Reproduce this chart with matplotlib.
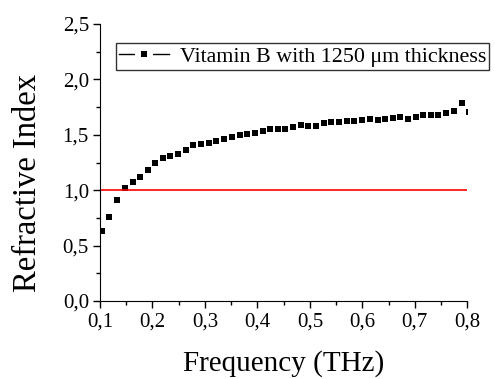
import matplotlib
matplotlib.use("Agg")
import matplotlib.pyplot as plt
from matplotlib.lines import Line2D
from matplotlib.ticker import MultipleLocator, FuncFormatter

plt.rcParams['font.family'] = ['Liberation Serif', 'DejaVu Serif']

# frequência (THz) e índice de refração
freq = [0.103, 0.118, 0.132, 0.147, 0.162, 0.176, 0.191, 0.205, 0.220, 0.234,
        0.249, 0.264, 0.278, 0.293, 0.307, 0.322, 0.337, 0.351, 0.366, 0.380,
        0.395, 0.410, 0.424, 0.439, 0.453, 0.468, 0.483, 0.497, 0.512, 0.526,
        0.541, 0.556, 0.570, 0.585, 0.599, 0.614, 0.629, 0.643, 0.658, 0.672,
        0.687, 0.702, 0.716, 0.731, 0.745, 0.760, 0.775, 0.789, 0.804]
n_index = [0.630, 0.762, 0.910, 1.018, 1.077, 1.119, 1.178, 1.248, 1.289, 1.305,
           1.323, 1.364, 1.405, 1.418, 1.427, 1.443, 1.465, 1.482, 1.498, 1.506,
           1.517, 1.532, 1.550, 1.550, 1.550, 1.569, 1.588, 1.582, 1.578, 1.603,
           1.615, 1.617, 1.623, 1.626, 1.630, 1.643, 1.634, 1.643, 1.649, 1.660,
           1.644, 1.658, 1.676, 1.676, 1.678, 1.695, 1.712, 1.789, 1.710]
ref_level = 1.0
legend_label = 'Vitamin B with 1250 \u03bcm thickness'

fig = plt.figure(figsize=(4.95, 3.79), dpi=100)
ax = fig.add_axes([100/495, 1-301/379, 367.3/495, 277/379])

ax.plot(freq, n_index, linestyle='none', marker='s', markersize=4.4,
        markeredgewidth=0, color='black')
ax.plot([0.1, 0.8], [ref_level, ref_level], color='red', lw=1.2)

ax.set_xlim(0.1, 0.8)
ax.set_ylim(0.0, 2.5)
for s in ['top', 'right']:
    ax.spines[s].set_visible(False)

virgula = FuncFormatter(lambda v, p: ('%.1f' % v).replace('.', ','))
ax.xaxis.set_major_locator(MultipleLocator(0.1))
ax.xaxis.set_minor_locator(MultipleLocator(0.05))
ax.yaxis.set_major_locator(MultipleLocator(0.5))
ax.yaxis.set_minor_locator(MultipleLocator(0.25))
ax.xaxis.set_major_formatter(virgula)
ax.yaxis.set_major_formatter(virgula)
ax.tick_params(which='major', direction='out', length=5, width=1,
               labelsize=15, pad=3)
ax.tick_params(which='minor', direction='out', length=3, width=1)

ax.set_xlabel('Frequency (THz)', fontsize=21)
ax.xaxis.label.set_va('baseline')
ax.xaxis.set_label_coords(0.499, -70/277)
ax.set_ylabel('Refractive Index', fontsize=23.5)
ax.yaxis.label.set_va('center')
ax.yaxis.set_label_coords(-72/367.3, 0.428)

# legenda no estilo Origin: linha - simbolo - linha
handle = Line2D([], [], color='black', lw=1, marker='s', markersize=8.6,
                markerfacecolor='black', markeredgecolor='white',
                markeredgewidth=4.3)
leg = ax.legend([handle], [legend_label], loc='upper left',
                bbox_to_anchor=(116/495, 1-43/379), bbox_transform=fig.transFigure,
                borderaxespad=0, fontsize=15.8, fancybox=False, framealpha=1,
                edgecolor='#333333', handlelength=2.25, handletextpad=0.5,
                borderpad=0.15)
leg.get_frame().set_linewidth(1)

fig.savefig('out.png', dpi=100)
